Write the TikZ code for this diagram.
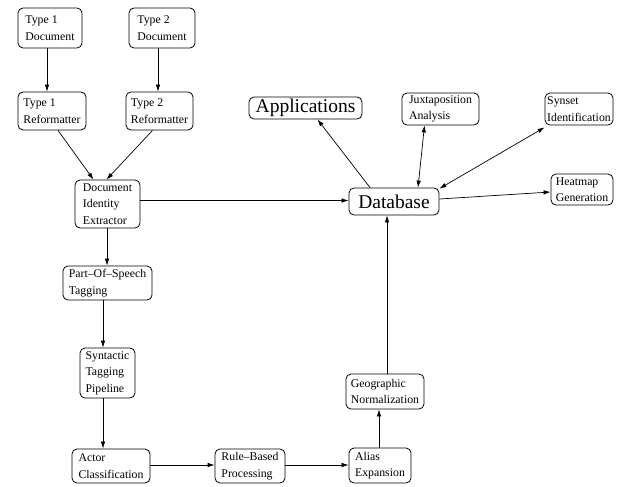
\documentclass[tikz,border=0pt]{standalone}
\usepackage{fontspec}
\setmainfont{Liberation Serif}
\usetikzlibrary{arrows.meta}
\begin{document}
\begin{tikzpicture}[x=1pt,y=-1pt,
  box/.style={draw,rounded corners=5pt,line width=0.8pt,align=left,inner sep=2pt,
    font=\fontsize{11.8}{16.5}\selectfont},
  bigbox/.style={draw,rounded corners=5pt,line width=0.8pt,inner sep=1pt,
    font=\fontsize{19.5}{22}\selectfont},
  arr/.style={line width=0.7pt,-{Latex[length=7pt,width=4.5pt]}},
  darr/.style={line width=0.7pt,{Latex[length=7pt,width=4.5pt]}-{Latex[length=7pt,width=4.5pt]}},
  ln/.style={line width=0.7pt}]
\useasboundingbox (0,0) rectangle (621,487);
\node[box,minimum width=64pt,minimum height=40pt] (t1d) at (50,28) {Type 1\\Document};
\node[box,minimum width=66pt,minimum height=40pt] (t2d) at (162,28) {Type 2\\Document};
\node[box,minimum width=68pt,minimum height=38pt] (t1r) at (52,111) {Type 1\\Reformatter};
\node[box,minimum width=67pt,minimum height=38pt] (t2r) at (159.5,111) {Type 2\\Reformatter};
\node[box,minimum width=65pt,minimum height=48pt] (die) at (107.5,204) {Document\\Identity\\Extractor};
\node[box,minimum width=89pt,minimum height=34pt] (pos) at (107.5,283) {Part{\textendash}Of{\textendash}Speech\\Tagging};
\node[box,minimum width=55pt,minimum height=50pt] (stp) at (107.5,373) {Syntactic\\Tagging\\Pipeline};
\node[box,minimum width=78pt,minimum height=34pt] (ac) at (111,466) {Actor\\Classification};
\node[box,minimum width=70pt,minimum height=34pt] (rbp) at (250,466) {Rule{\textendash}Based\\Processing};
\node[box,minimum width=62pt,minimum height=35pt] (ae) at (380,465.5) {Alias\\Expansion};
\node[box,minimum width=78pt,minimum height=35pt] (gn) at (385,391.5) {Geographic\\Normalization};
\node[bigbox,minimum width=90pt,minimum height=27pt] (db) at (394,201.5) {Database};
\node[bigbox,minimum width=113pt,minimum height=22pt] (app) at (305.5,108) {Applications};
\node[box,minimum width=77pt,minimum height=32pt] (jux) at (440.5,109) {Juxtaposition\\Analysis};
\node[box,minimum width=68pt,minimum height=32pt] (syn) at (579,109) {Synset\\Identification};
\node[box,minimum width=62pt,minimum height=31pt] (heat) at (582,189.5) {Heatmap\\Generation};

\draw[arr] ([xshift=-3pt]t1d.south) -- ([xshift=-5pt]t1r.north);
\draw[arr] ([xshift=-4pt]t2d.south) -- ([xshift=-1.5pt]t2r.north);
\draw[arr] ([xshift=6pt]t1r.south) -- ([xshift=-14pt]die.north);
\draw[arr] ([xshift=-7pt]t2r.south) -- ([xshift=-1pt]die.north);
\draw[arr] ([xshift=-0.5pt]die.south) -- ([xshift=-0.5pt]pos.north);
\draw[arr] ([xshift=-4.5pt]pos.south) -- ([xshift=-4.5pt]stp.north);
\draw[arr] ([xshift=-4.5pt]stp.south) -- ([xshift=-8pt]ac.north);
\draw[arr] ([yshift=1pt]ac.east) -- ([yshift=1pt]rbp.west);
\draw[arr] ([yshift=1pt]rbp.east) -- ([yshift=0.5pt]ae.west);
\draw[arr] ([xshift=-1pt]ae.north) -- ([xshift=-6pt]gn.south);
\draw[arr] ([xshift=2pt]gn.north) -- ([xshift=-7pt]db.south);
\draw[arr] ([yshift=3.5pt]die.east) -- ([yshift=1pt]db.west);
\draw[arr] ([xshift=-24pt]db.north) -- ([xshift=12pt]app.south);
\draw[darr] ([xshift=24pt]db.north) -- ([xshift=-16pt]jux.south);
\draw[darr] ([yshift=-1pt]db.north east) -- ([yshift=-2pt]syn.south west);
\draw[arr] ([yshift=2.5pt]db.east) -- ([yshift=-2.5pt]heat.west);
\end{tikzpicture}
\end{document}
